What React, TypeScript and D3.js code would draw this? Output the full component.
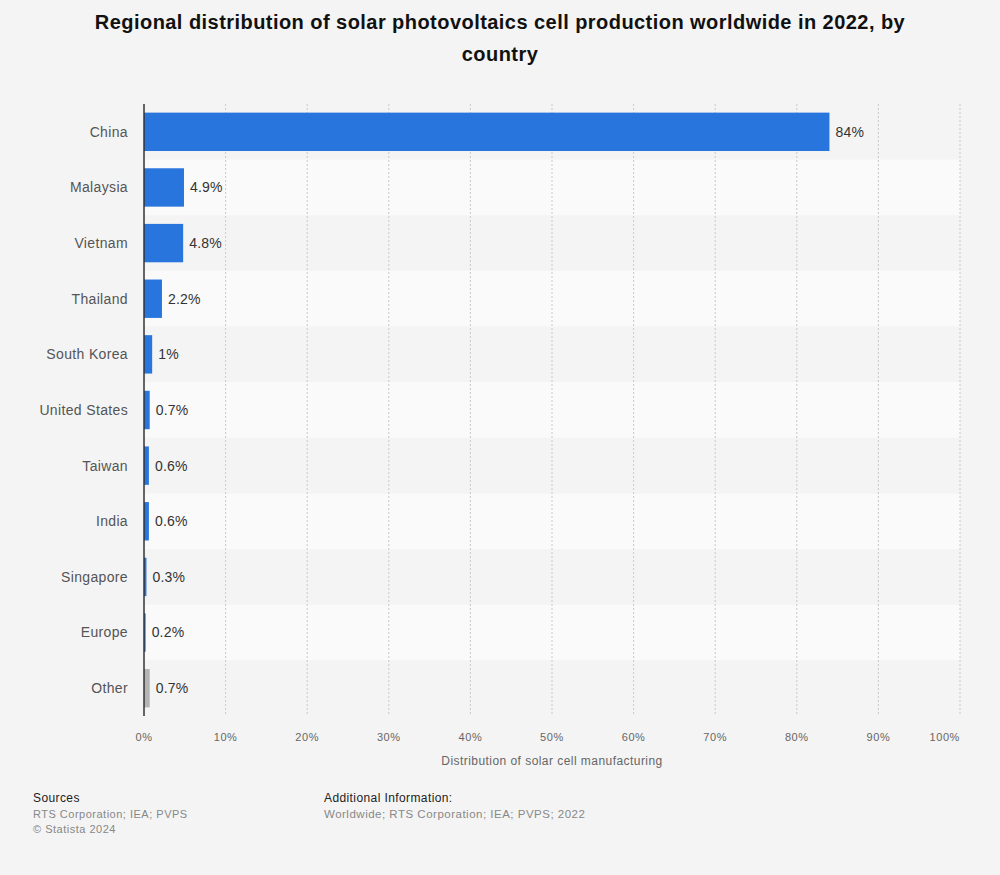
import React from "react";
import * as d3 from "d3";

const categories = ["China", "Malaysia", "Vietnam", "Thailand", "South Korea", "United States", "Taiwan", "India", "Singapore", "Europe", "Other"];
const values = [84, 4.9, 4.8, 2.2, 1, 0.7, 0.6, 0.6, 0.3, 0.2, 0.7];
const valueLabels = ["84%", "4.9%", "4.8%", "2.2%", "1%", "0.7%", "0.6%", "0.6%", "0.3%", "0.2%", "0.7%"];
const xTicks = [0, 10, 20, 30, 40, 50, 60, 70, 80, 90, 100];

const W = 1000, H = 875;
const left = 144, right = 960, top = 104, bottom = 716;
const font = "'Liberation Sans', Arial, Helvetica, sans-serif";

export default function App() {
  const x = d3.scaleLinear().domain([0, 100]).range([left, right]);
  const y = d3.scaleBand<string>().domain(categories).range([top, bottom]).paddingInner(0.31).paddingOuter(0.155);
  const step = y.step();
  return (
    <svg width={W} height={H} style={{ position: "absolute", left: 0, top: 0, background: "#f4f4f4" }} fontFamily={font}>
      <rect x={0} y={0} width={W} height={H} fill="#f4f4f4" />
      <text x={500} y={29} textAnchor="middle" fontSize={20} letterSpacing={0.45} fontWeight="bold" fill="#111">Regional distribution of solar photovoltaics cell production worldwide in 2022, by</text>
      <text x={500} y={61} textAnchor="middle" fontSize={20} letterSpacing={0.45} fontWeight="bold" fill="#111">country</text>
      {categories.map((c, i) => (
        <rect key={"bg" + c} x={left} y={top + i * step} width={right - left} height={step} fill={i % 2 === 0 ? "#f4f4f4" : "#fafafa"} />
      ))}
      {xTicks.slice(1).map((t) => (
        <line key={"g" + t} x1={x(t)} x2={x(t)} y1={top} y2={bottom} stroke="#c8c8c8" strokeDasharray="2,2" strokeWidth={1} />
      ))}
      {categories.map((c, i) => {
        const isOther = c === "Other";
        const bw = Math.max(x(values[i]) - x(0), 1);
        return (
          <g key={c}>
            <rect x={x(0)} y={y(c)} width={bw} height={y.bandwidth()} fill={isOther ? "#b5b5b5" : "#2876dd"} />
            <text x={x(values[i]) + 6} y={(y(c) as number) + y.bandwidth() / 2} dy="0.35em" fontSize={14} letterSpacing={0.2} fill="#333">{valueLabels[i]}</text>
            <text x={128} y={(y(c) as number) + y.bandwidth() / 2} dy="0.35em" textAnchor="end" fontSize={14} letterSpacing={0.35} fill="#555">{c}</text>
          </g>
        );
      })}
      <line x1={left} x2={left} y1={top} y2={bottom} stroke="#333" strokeWidth={1.5} />
      {xTicks.map((t, i) => (
        <text key={"t" + t} x={x(t)} y={741} textAnchor={i === xTicks.length - 1 ? "end" : "middle"} fontSize={11} letterSpacing={0.6} fill="#666">{t}%</text>
      ))}
      <text x={552} y={765} textAnchor="middle" fontSize={12} letterSpacing={0.45} fill="#666">Distribution of solar cell manufacturing</text>
      <text x={33} y={802} fontSize={12} letterSpacing={0.4} fill="#222">Sources</text>
      <text x={33} y={818} fontSize={11} letterSpacing={0.5} fill="#888">RTS Corporation; IEA; PVPS</text>
      <text x={33} y={833} fontSize={11} letterSpacing={0.5} fill="#888">© Statista 2024</text>
      <text x={324} y={802} fontSize={12} letterSpacing={0.4} fill="#222">Additional Information:</text>
      <text x={324} y={818} fontSize={11.5} letterSpacing={0.5} fill="#888">Worldwide; RTS Corporation; IEA; PVPS; 2022</text>
    </svg>
  );
}
